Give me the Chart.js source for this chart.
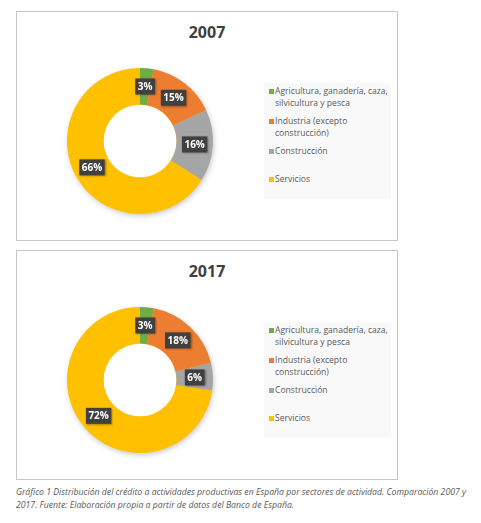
<!DOCTYPE html>
<html>
<head>
<meta charset="utf-8">
<script src="https://cdn.jsdelivr.net/npm/chart.js@4.4.0/dist/chart.umd.min.js"></script>
<style>
  body { margin: 0; background: #fff; font-family: "Open Sans", sans-serif; }
  .box { position: absolute; left: 16px; width: 380px; height: 228px; border: 1px solid #c6c6c6; background: #fff; }
  .box canvas { position: absolute; left: 0; top: 0; }
  .title { position: absolute; left: 0; width: 380px; top: 9px; text-align: center; font-weight: bold; font-size: 16px; line-height: 22px; color: #404040; }
  .legend { position: absolute; left: 247px; top: 71px; width: 127px; height: 116px; background: #f9f9f9; }
  .item { position: absolute; left: 0; font-size: 8.6px; line-height: 12px; color: #595959; white-space: nowrap; padding-left: 11px; }
  .item i { position: absolute; left: 5px; top: 4px; width: 5px; height: 5px; }
  .caption { position: absolute; left: 16px; top: 486px; font-size: 8.7px; line-height: 13px; font-style: italic; color: #595959; white-space: nowrap; }
</style>
</head>
<body>
<div class="box" style="top:11px">
  <div class="title" id="t1"></div>
  <canvas id="c1"></canvas>
  <div class="legend" id="l1"></div>
</div>
<div class="box" style="top:250px">
  <div class="title" id="t2"></div>
  <canvas id="c2"></canvas>
  <div class="legend" id="l2"></div>
</div>
<div class="caption">Gráfico 1 Distribución del crédito a actividades productivas en España por sectores de actividad. Comparación 2007 y<br>2017. Fuente: Elaboración propia a partir de datos del Banco de España.</div>

<script>
// datos
var years = ["2007", "2017"];
var categories = [
  ["Agricultura, ganadería, caza,", "silvicultura y pesca"],
  ["Industria (excepto", "construcción)"],
  ["Construcción"],
  ["Servicios"]
];
var values2007 = [3, 15, 16, 66];
var values2017 = [3, 18, 6, 72];

var colors = ["#70ad47", "#ed7d31", "#a5a5a5", "#ffc000"];
var legendTops = [2, 32, 62, 90];

// sombra del anillo + etiquetas oscuras
const sliceLabels = {
  id: "sliceLabels",
  beforeDatasetsDraw(chart) {
    const arc = chart.getDatasetMeta(0).data[0];
    const ctx = chart.ctx;
    ctx.save();
    ctx.shadowColor = "rgba(0,0,0,0.28)";
    ctx.shadowBlur = 6;
    ctx.shadowOffsetX = 1;
    ctx.shadowOffsetY = 2;
    ctx.beginPath();
    ctx.arc(arc.x, arc.y, arc.outerRadius - 1, 0, Math.PI * 2);
    ctx.fillStyle = "#ffc000";
    ctx.fill();
    ctx.restore();
    ctx.save();
    ctx.beginPath();
    ctx.arc(arc.x, arc.y, arc.innerRadius, 0, Math.PI * 2);
    ctx.fillStyle = "#fff";
    ctx.fill();
    ctx.restore();
  },
  afterDatasetsDraw(chart) {
    const ctx = chart.ctx;
    const meta = chart.getDatasetMeta(0);
    const data = chart.data.datasets[0].data;
    ctx.save();
    ctx.font = "bold 10px 'Open Sans'";
    ctx.textAlign = "center";
    ctx.textBaseline = "middle";
    meta.data.forEach(function (arc, i) {
      const p = arc.tooltipPosition();
      const txt = data[i] + "%";
      const w = ctx.measureText(txt).width + 5;
      const h = 16;
      ctx.shadowColor = "rgba(0,0,0,0.35)";
      ctx.shadowBlur = 2;
      ctx.shadowOffsetX = 1;
      ctx.shadowOffsetY = 1;
      ctx.fillStyle = "#404040";
      ctx.fillRect(p.x - w / 2, p.y - h / 2, w, h);
      ctx.shadowColor = "transparent";
      ctx.fillStyle = "#ffffff";
      ctx.fillText(txt, p.x, p.y + 0.5);
    });
    ctx.restore();
  }
};

function makeChart(canvasId, titleId, legendId, year, values) {
  document.getElementById(titleId).textContent = year;
  const chart = new Chart(document.getElementById(canvasId), {
    type: "doughnut",
    data: {
      labels: categories,
      datasets: [
        {
          data: values,
          backgroundColor: colors,
          borderWidth: 0,
          hoverOffset: 0
        }
      ]
    },
    options: {
      responsive: false,
      animation: false,
      cutout: "50%",
      layout: { padding: { left: 50, top: 56, right: 184, bottom: 26 } },
      plugins: {
        legend: { display: false },
        tooltip: { enabled: false }
      }
    },
    plugins: [sliceLabels]
  });

  // leyenda html
  const leg = document.getElementById(legendId);
  chart.data.labels.forEach(function (lbl, i) {
    const d = document.createElement("div");
    d.className = "item";
    d.style.top = legendTops[i] + "px";
    d.innerHTML = '<i style="background:' + colors[i] + '"></i>' + lbl.join("<br>");
    leg.appendChild(d);
  });
}

document.getElementById("c1").width = 380;
document.getElementById("c1").height = 228;
document.getElementById("c2").width = 380;
document.getElementById("c2").height = 228;
makeChart("c1", "t1", "l1", years[0], values2007);
makeChart("c2", "t2", "l2", years[1], values2017);
</script>
</body>
</html>
